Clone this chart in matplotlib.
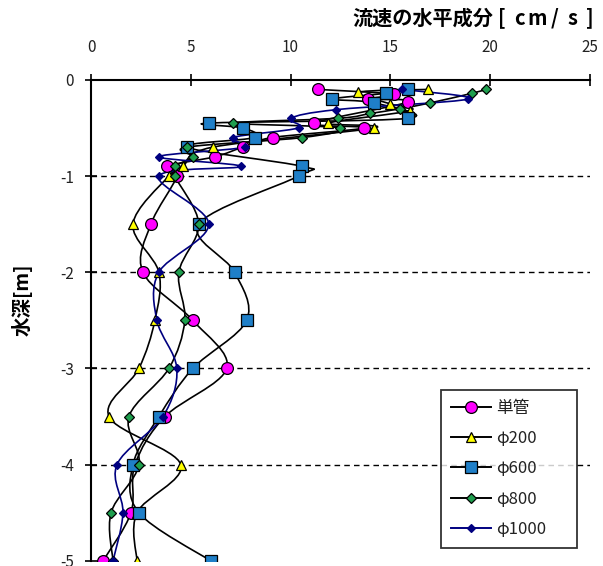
import numpy as np
import matplotlib
matplotlib.use("Agg")
import matplotlib.pyplot as plt
from matplotlib.path import Path
from matplotlib.patches import PathPatch
from matplotlib.lines import Line2D

plt.rcParams['font.family'] = ['Noto Sans CJK JP', 'DejaVu Sans']

# depth [m] and horizontal velocity [cm/s] per pipe
tan_d = [-0.1, -0.15, -0.2, -0.23, -0.45, -0.5, -0.6, -0.7, -0.8, -0.9, -1.0,
         -1.5, -2.0, -2.5, -3.0, -3.5, -4.0, -4.5, -5.0]
tan_v = [11.4, 15.2, 13.9, 15.9, 11.2, 13.7, 9.1, 7.6, 6.2, 3.8, 4.3,
         3.0, 2.6, 5.1, 6.8, 3.7, 2.2, 2.0, 0.6]

p200_d = [-0.1, -0.13, -0.25, -0.32, -0.45, -0.5, -0.7, -0.9, -1.0,
          -1.5, -2.0, -2.5, -3.0, -3.5, -4.0, -4.5, -5.0]
p200_v = [16.9, 13.4, 15.0, 16.0, 11.9, 14.2, 6.1, 4.6, 3.9,
          2.1, 3.4, 3.2, 2.4, 0.9, 4.5, 2.3, 2.3]

p600_d = [-0.1, -0.14, -0.2, -0.24, -0.4, -0.45, -0.5, -0.6, -0.7, -0.9, -1.0,
          -1.5, -2.0, -2.5, -3.0, -3.5, -4.0, -4.5, -5.0]
p600_v = [15.9, 14.8, 12.1, 14.2, 15.9, 5.9, 7.6, 8.2, 4.8, 10.6, 10.4,
          5.4, 7.2, 7.8, 5.1, 3.4, 2.1, 2.4, 6.0]

p800_d = [-0.1, -0.14, -0.24, -0.3, -0.35, -0.4, -0.45, -0.5, -0.6, -0.7, -0.8, -0.9, -1.0,
          -1.5, -2.0, -2.5, -3.0, -3.5, -4.0, -4.5, -5.0]
p800_v = [19.8, 19.1, 17.0, 15.5, 14.0, 12.4, 7.1, 12.5, 10.6, 4.8, 5.1, 4.2, 4.2,
          5.4, 4.4, 4.7, 3.9, 1.9, 2.4, 1.0, 1.1]

p1000_d = [-0.1, -0.2, -0.31, -0.4, -0.5, -0.6, -0.7, -0.8, -0.9, -1.0,
           -1.5, -2.0, -2.5, -3.0, -3.5, -4.0, -4.5, -5.0]
p1000_v = [15.6, 18.9, 12.3, 10.0, 10.4, 7.1, 7.7, 3.4, 7.5, 3.4,
           5.9, 3.4, 3.3, 4.3, 3.6, 1.3, 1.6, 1.1]

labels = ['単管', 'φ200', 'φ600', 'φ800', 'φ1000']


def smooth_path(x, y):
    # catmull-rom style bezier, like a spreadsheet "smoothed line"
    p = np.column_stack([x, y]).astype(float)
    q = np.vstack([p[0], p, p[-1]])
    verts = [p[0]]
    codes = [Path.MOVETO]
    for i in range(len(p) - 1):
        c1 = q[i + 1] + (q[i + 2] - q[i]) / 6
        c2 = q[i + 2] - (q[i + 3] - q[i + 1]) / 6
        verts += [c1, c2, q[i + 2]]
        codes += [Path.CURVE4] * 3
    return Path(verts, codes)


series = [
    (tan_v, tan_d, dict(marker='o', ms=8.5, mfc='#ff00ff'), 'black'),
    (p200_v, p200_d, dict(marker='^', ms=7.5, mfc='#ffff00'), 'black'),
    (p600_v, p600_d, dict(marker='s', ms=8.5, mfc='#1f7fc8'), 'black'),
    (p800_v, p800_d, dict(marker='D', ms=5.5, mfc='#1e9e4e'), 'black'),
    (p1000_v, p1000_d, dict(marker='D', ms=4.5, mfc='#000080'), '#000080'),
]

fig = plt.figure(figsize=(6.03, 5.66), dpi=100)
ax = fig.add_axes([0.151, 0.009, 0.827, 0.850])

for y in [-1, -2, -3, -4]:
    ax.axhline(y, color='black', ls=(0, (4, 3)), lw=1.0, zorder=1)

handles = []
for v, d, mk, lc in series:
    ec = 'black' if lc == 'black' else '#000080'
    ax.add_patch(PathPatch(smooth_path(v, d), fill=False, ec=lc, lw=1.2, zorder=2))
    ax.plot(v, d, ls='none', mec=ec, mew=0.9, zorder=3, **mk)
    handles.append(Line2D([], [], color=lc, lw=1.4, mec=ec, mew=0.9, **mk))

ax.set_xlim(0, 25)
ax.set_ylim(-5, 0)
ax.xaxis.tick_top()
ax.set_xticks([0, 5, 10, 15, 20, 25])
ax.set_yticks([0, -1, -2, -3, -4, -5])
ax.set_yticklabels(['0', '-1', '-2', '-3', '-4', '-5'])
ax.tick_params(axis='x', direction='inout', length=9, width=1.2, pad=13,
               labelsize=11, labelcolor='#222222')
ax.tick_params(axis='y', direction='inout', length=9, width=1.2, pad=8,
               labelsize=11, labelcolor='#222222')
for s in ['right', 'bottom']:
    ax.spines[s].set_visible(False)
for s in ['left', 'top']:
    ax.spines[s].set_linewidth(1.5)

leg = ax.legend(handles, labels, loc='lower left', mode='expand',
                bbox_to_anchor=(0.701, 0.027, 0.273, 0.33),
                fontsize=12, frameon=True, fancybox=False, edgecolor='black',
                handlelength=2.4, handletextpad=0.3, labelspacing=0.8,
                borderpad=0.6, borderaxespad=0)
leg.get_frame().set_linewidth(1.3)
for t in leg.get_texts():
    t.set_color('#222222')

# title: kanji part, then the bracketed unit with wide character pitch
px = 1 / 603
fig.text(352 * px, 0.968, '流速の水平成分', ha='left', va='center',
         fontsize=14.5, fontweight='bold')
for i, ch in enumerate('[cm/s]'):
    fig.text((502 + 17.5 * i) * px, 0.968, ch, ha='center', va='center',
             fontsize=14.5, fontweight='bold')

fig.text(0.036, 0.47, '水深[m]', ha='center', va='center', rotation=90,
         fontsize=14, fontweight='bold')

fig.savefig('out.png', dpi=100)
